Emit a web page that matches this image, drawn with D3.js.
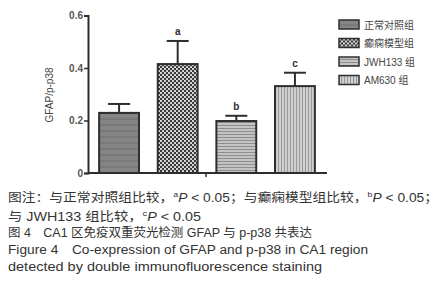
<!DOCTYPE html>
<html>
<head>
<meta charset="utf-8">
<script src="https://cdn.jsdelivr.net/npm/d3@7"></script>
<style>
  html, body { margin: 0; padding: 0; background: #fff; }
  svg text { font-family: "Liberation Sans", Arial, "Noto Sans CJK SC", sans-serif; }
</style>
</head>
<body>
<div id="chart"></div>
<script>
"use strict";

/* ── Data ── */
const groups   = ["正常对照组", "癫痫模型组", "JWH133 组", "AM630 组"];
const means    = [0.229, 0.415, 0.198, 0.331];
const errors   = [0.034, 0.088, 0.020, 0.051];
const sigMarks = ["", "a", "b", "c"];
const yTicks   = [0, 0.2, 0.4, 0.6];

const W = 446, H = 300;
const svg = d3.select("#chart").append("svg")
  .attr("width", W).attr("height", H);

/* ── Patterns ── */
const defs = svg.append("defs");

// solid mid grey with faint banding
const p0 = defs.append("pattern").attr("id", "pat0")
  .attr("patternUnits", "userSpaceOnUse").attr("width", 4).attr("height", 6);
p0.append("rect").attr("width", 4).attr("height", 6).attr("fill", "#858585");
p0.append("rect").attr("y", 4).attr("width", 4).attr("height", 2).attr("fill", "#7a7a7a");

// dark with white dots
const p1 = defs.append("pattern").attr("id", "pat1")
  .attr("patternUnits", "userSpaceOnUse").attr("width", 4).attr("height", 4);
p1.append("rect").attr("width", 4).attr("height", 4).attr("fill", "#3a3a3a");
p1.append("circle").attr("cx", 1).attr("cy", 1).attr("r", 1.05).attr("fill", "#e8e8e8");
p1.append("circle").attr("cx", 3).attr("cy", 3).attr("r", 1.05).attr("fill", "#e8e8e8");

// light grey horizontal lines
const p2 = defs.append("pattern").attr("id", "pat2")
  .attr("patternUnits", "userSpaceOnUse").attr("width", 4).attr("height", 3);
p2.append("rect").attr("width", 4).attr("height", 3).attr("fill", "#c4c4c4");
p2.append("rect").attr("y", 2).attr("width", 4).attr("height", 1).attr("fill", "#8e8e8e");

// light grey vertical lines
const p3 = defs.append("pattern").attr("id", "pat3")
  .attr("patternUnits", "userSpaceOnUse").attr("width", 3).attr("height", 4);
p3.append("rect").attr("width", 3).attr("height", 4).attr("fill", "#cfcfcf");
p3.append("rect").attr("x", 2).attr("width", 1).attr("height", 4).attr("fill", "#9a9a9a");

const fills = ["url(#pat0)", "url(#pat1)", "url(#pat2)", "url(#pat3)"];

/* ── Scales ── */
const x = d3.scaleBand()
  .domain(groups)
  .range([88, 326])
  .paddingInner(0.32)
  .paddingOuter(0.19);

const y = d3.scaleLinear()
  .domain([0, 0.6])
  .range([173, 15.5]);

const ink = "#2e2e2e";

/* ── Bars ── */
const g = svg.append("g");

g.selectAll("rect.bar")
  .data(groups)
  .join("rect")
  .attr("class", "bar")
  .attr("x", d => x(d))
  .attr("y", (d, i) => y(means[i]))
  .attr("width", x.bandwidth())
  .attr("height", (d, i) => y(0) - y(means[i]))
  .attr("fill", (d, i) => fills[i])
  .attr("stroke", ink)
  .attr("stroke-width", 2);

/* ── Error bars ── */
const capW = 22;
groups.forEach((d, i) => {
  const cx  = x(d) + x.bandwidth() / 2;
  const top = y(means[i] + errors[i]);
  g.append("line")
    .attr("x1", cx).attr("x2", cx)
    .attr("y1", y(means[i])).attr("y2", top)
    .attr("stroke", ink).attr("stroke-width", 2);
  g.append("line")
    .attr("x1", cx - capW / 2).attr("x2", cx + capW / 2)
    .attr("y1", top).attr("y2", top)
    .attr("stroke", ink).attr("stroke-width", 2);
  if (sigMarks[i]) {
    g.append("text")
      .attr("x", cx).attr("y", top - 6)
      .attr("text-anchor", "middle")
      .attr("font-size", "10px")
      .attr("font-weight", "bold")
      .attr("fill", ink)
      .text(sigMarks[i]);
  }
});

/* ── Axes ── */
const yAxis = d3.axisLeft(y)
  .tickValues(yTicks)
  .tickSize(4)
  .tickFormat(d => d === 0 ? "0" : d.toFixed(1));

const ya = svg.append("g")
  .attr("transform", "translate(88,0)")
  .call(yAxis);
ya.select(".domain").attr("stroke", ink).attr("stroke-width", 2);
ya.selectAll(".tick line").attr("stroke", ink).attr("stroke-width", 1.5);
ya.selectAll(".tick text")
  .attr("font-size", "10px")
  .attr("font-weight", "bold")
  .attr("fill", "#555")
  .attr("x", -5);

// x axis baseline and centre tick
svg.append("line")
  .attr("x1", 88).attr("x2", 327)
  .attr("y1", y(0)).attr("y2", y(0))
  .attr("stroke", ink).attr("stroke-width", 2);
svg.append("line")
  .attr("x1", 206).attr("x2", 206)
  .attr("y1", y(0)).attr("y2", y(0) + 4)
  .attr("stroke", ink).attr("stroke-width", 1.5);

// y axis title
svg.append("text")
  .attr("transform", "translate(53,95) rotate(-90)")
  .attr("text-anchor", "middle")
  .attr("font-size", "10px")
  .attr("fill", "#444")
  .text("GFAP/p-p38");

/* ── Legend ── */
const legend = svg.append("g").attr("transform", "translate(339,20)");
groups.forEach((d, i) => {
  const row = legend.append("g").attr("transform", `translate(0,${i * 18.5})`);
  row.append("rect")
    .attr("width", 20).attr("height", 9)
    .attr("fill", fills[i])
    .attr("stroke", ink).attr("stroke-width", 1.5);
  row.append("text")
    .attr("x", 25).attr("y", 8.5)
    .attr("font-size", "10px")
    .attr("fill", "#444")
    .text(d);
});

/* ── Caption ── */
const cap = svg.append("g")
  .attr("font-size", "12.5px")
  .attr("fill", "#333");

function sigLine(yPos, parts, len) {
  const t = cap.append("text").attr("x", 8).attr("y", yPos);
  if (len) t.attr("textLength", len).attr("lengthAdjust", "spacingAndGlyphs");
  parts.forEach(p => {
    const s = t.append("tspan").text(p.t);
    if (p.sup) s.attr("font-size", "8px").attr("dy", -5);
    if (p.down) s.attr("dy", 5);
    if (p.it) s.attr("font-style", "italic");
  });
}

sigLine(202, [
  { t: "图注：与正常对照组比较，" },
  { t: "a", sup: true },
  { t: "P", it: true, down: true },
  { t: " < 0.05；与癫痫模型组比较，" },
  { t: "b", sup: true },
  { t: "P", it: true, down: true },
  { t: " < 0.05；" }
], 430);

sigLine(221, [
  { t: "与 JWH133 组比较，" },
  { t: "c", sup: true },
  { t: "P", it: true, down: true },
  { t: " < 0.05" }
], 193);

cap.append("text").attr("x", 8).attr("y", 237)
  .attr("textLength", 304).attr("lengthAdjust", "spacingAndGlyphs")
  .text("图 4　CA1 区免疫双重荧光检测 GFAP 与 p-p38 共表达");

cap.append("text").attr("x", 8).attr("y", 254)
  .attr("textLength", 360).attr("lengthAdjust", "spacingAndGlyphs")
  .text("Figure 4　Co-expression of GFAP and p-p38 in CA1 region");

cap.append("text").attr("x", 8).attr("y", 271)
  .attr("textLength", 314).attr("lengthAdjust", "spacingAndGlyphs")
  .text("detected by double immunofluorescence staining");
</script>
</body>
</html>
